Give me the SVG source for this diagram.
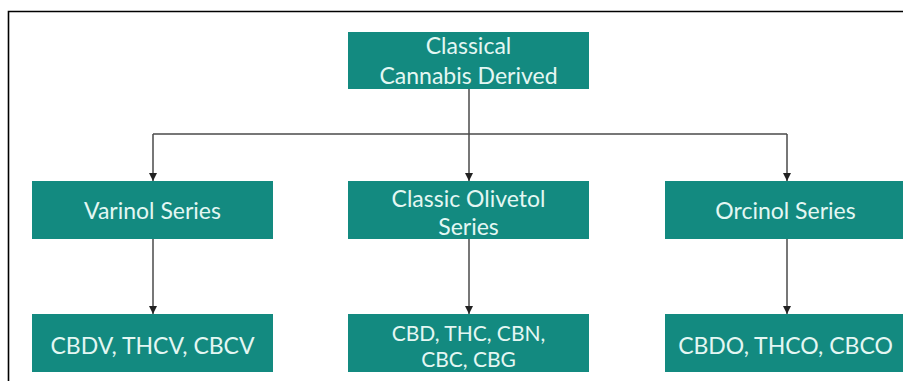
<svg xmlns="http://www.w3.org/2000/svg" width="903" height="381" viewBox="0 0 903 381">
<defs>
<style>
.box{fill:#138a80;}
.lbl{font-family:Lato,"Open Sans","Liberation Sans",sans-serif;font-size:23px;fill:#e4f7f3;text-anchor:middle;}
.sm{font-size:21px;}
.con{fill:none;stroke:#4a4a4a;stroke-width:1.5;}
</style>
<marker id="arr" viewBox="0 0 8 8" refX="8" refY="4" markerWidth="8" markerHeight="8" markerUnits="userSpaceOnUse" orient="auto">
<path d="M0,0 L8,4 L0,8 Z" fill="#222"/>
</marker>
</defs>
<rect width="903" height="381" fill="#ffffff"/>
<path d="M903,11.5 H8.5 V381" fill="none" stroke="#000" stroke-width="1.6"/>
<g id="connectors">
<path class="con" d="M469,89 V134"/>
<path class="con" d="M153,134 H787"/>
<path class="con" d="M153,134 V181" marker-end="url(#arr)"/>
<path class="con" d="M469,134 V181" marker-end="url(#arr)"/>
<path class="con" d="M787,134 V181" marker-end="url(#arr)"/>
<path class="con" d="M153,239 V314" marker-end="url(#arr)"/>
<path class="con" d="M469,239 V314" marker-end="url(#arr)"/>
<path class="con" d="M787,239 V314" marker-end="url(#arr)"/>
</g>
<g id="node-classical">
<rect class="box" x="348" y="32" width="241" height="57"/>
<text class="lbl" x="468.5" y="54">Classical</text>
<text class="lbl" x="468.5" y="84">Cannabis Derived</text>
</g>
<g id="node-varinol">
<rect class="box" x="32" y="181" width="241" height="58"/>
<text class="lbl" x="152.5" y="219">Varinol Series</text>
</g>
<g id="node-olivetol">
<rect class="box" x="348" y="181" width="241" height="58"/>
<text class="lbl" x="468.5" y="207">Classic Olivetol</text>
<text class="lbl" x="468.5" y="235">Series</text>
</g>
<g id="node-orcinol">
<rect class="box" x="665" y="181" width="241" height="58"/>
<text class="lbl" x="785.5" y="219">Orcinol Series</text>
</g>
<g id="node-cbdv">
<rect class="box" x="32" y="314" width="241" height="58"/>
<text class="lbl" x="152.5" y="354">CBDV, THCV, CBCV</text>
</g>
<g id="node-cbd">
<rect class="box" x="348" y="314" width="241" height="58"/>
<text class="lbl sm" x="468.5" y="341">CBD, THC, CBN,</text>
<text class="lbl sm" x="468.5" y="367">CBC, CBG</text>
</g>
<g id="node-cbdo">
<rect class="box" x="665" y="314" width="241" height="58"/>
<text class="lbl" x="785.5" y="354">CBDO, THCO, CBCO</text>
</g>
</svg>
